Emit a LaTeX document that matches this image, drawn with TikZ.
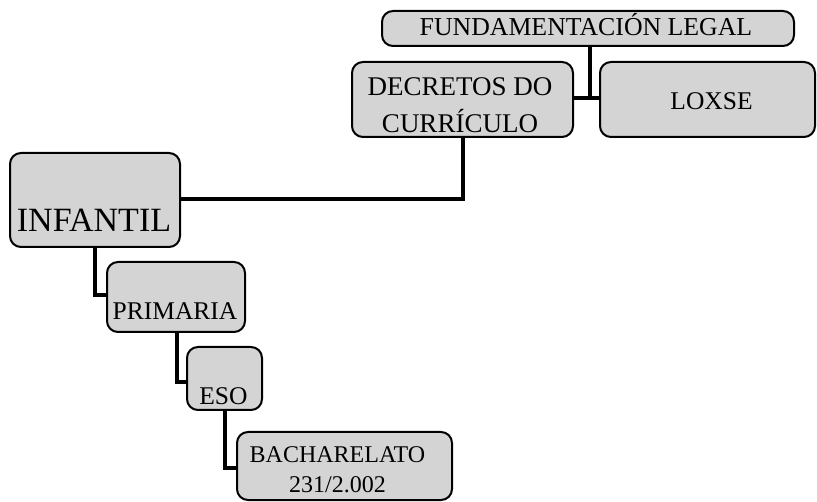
\documentclass[tikz,border=0pt]{standalone}
\usepackage{fontspec}
\setmainfont{Liberation Serif}
\begin{document}
\begin{tikzpicture}[x=1pt,y=-1pt,
  box/.style={draw=black,line width=2pt,fill=boxgray,rounded corners=11pt,inner sep=0pt},
  conn/.style={draw=black,line width=4.5pt},
  lbl/.style={anchor=base,inner sep=0pt,font=\fontsize{25.5}{30}\selectfont},
  big/.style={anchor=base,inner sep=0pt,font=\fontsize{34}{40}\selectfont}]
\definecolor{boxgray}{HTML}{D4D4D4}
\useasboundingbox (0,0) rectangle (817,502);
% boxes
\node[box,minimum width=412pt,minimum height=35pt] (fund) at (588,28.5) {};
\node[box,minimum width=221pt,minimum height=75pt] (dec) at (462.5,99.5) {};
\node[box,minimum width=215pt,minimum height=75pt] (lox) at (707.5,99.5) {};
\node[box,minimum width=170pt,minimum height=94pt] (inf) at (95,200) {};
\node[box,minimum width=138pt,minimum height=70pt] (pri) at (176,297) {};
\node[box,minimum width=75pt,minimum height=63pt] (eso) at (224.5,378.5) {};
\node[box,minimum width=215pt,minimum height=68pt] (bach) at (344.5,466) {};
% texts
\node[lbl,font=\fontsize{25.8}{30}\selectfont] (tfund) at (586,36) {FUNDAMENTACIÓN LEGAL};
\node[lbl,font=\fontsize{27}{30}\selectfont] (tdec1) at (460,96) {DECRETOS DO};
\node[lbl,font=\fontsize{27}{30}\selectfont] (tdec2) at (460,132.5) {CURRÍCULO};
\node[lbl] (tlox) at (711.5,110) {LOXSE};
\node[big] (tinf) at (94,232) {INFANTIL};
\node[lbl] (tpri) at (175,320) {PRIMARIA};
\node[lbl] (teso) at (223.5,405) {ESO};
\node[lbl,font=\fontsize{24}{30}\selectfont] (tbach1) at (337.5,463) {BACHARELATO};
\node[lbl,font=\fontsize{24}{30}\selectfont] (tbach2) at (337.5,493) {231/2.002};
% connectors
\coordinate (j1) at (590,98);
\coordinate (j2) at (463,199);
\coordinate (j3) at (95,295);
\coordinate (j4) at (177,382);
\coordinate (j5) at (225,468);
\draw[conn] (fund.south -| j1) -- (j1);
\draw[conn] (dec.east |- j1) -- (lox.west |- j1);
\draw[conn] (dec.south -| j2) -- (j2) -- (inf.east |- j2);
\draw[conn] (inf.south -| j3) -- (j3) -- (pri.west |- j3);
\draw[conn] (pri.south -| j4) -- (j4) -- (eso.west |- j4);
\draw[conn] (eso.south -| j5) -- (j5) -- (bach.west |- j5);
\end{tikzpicture}
\end{document}
